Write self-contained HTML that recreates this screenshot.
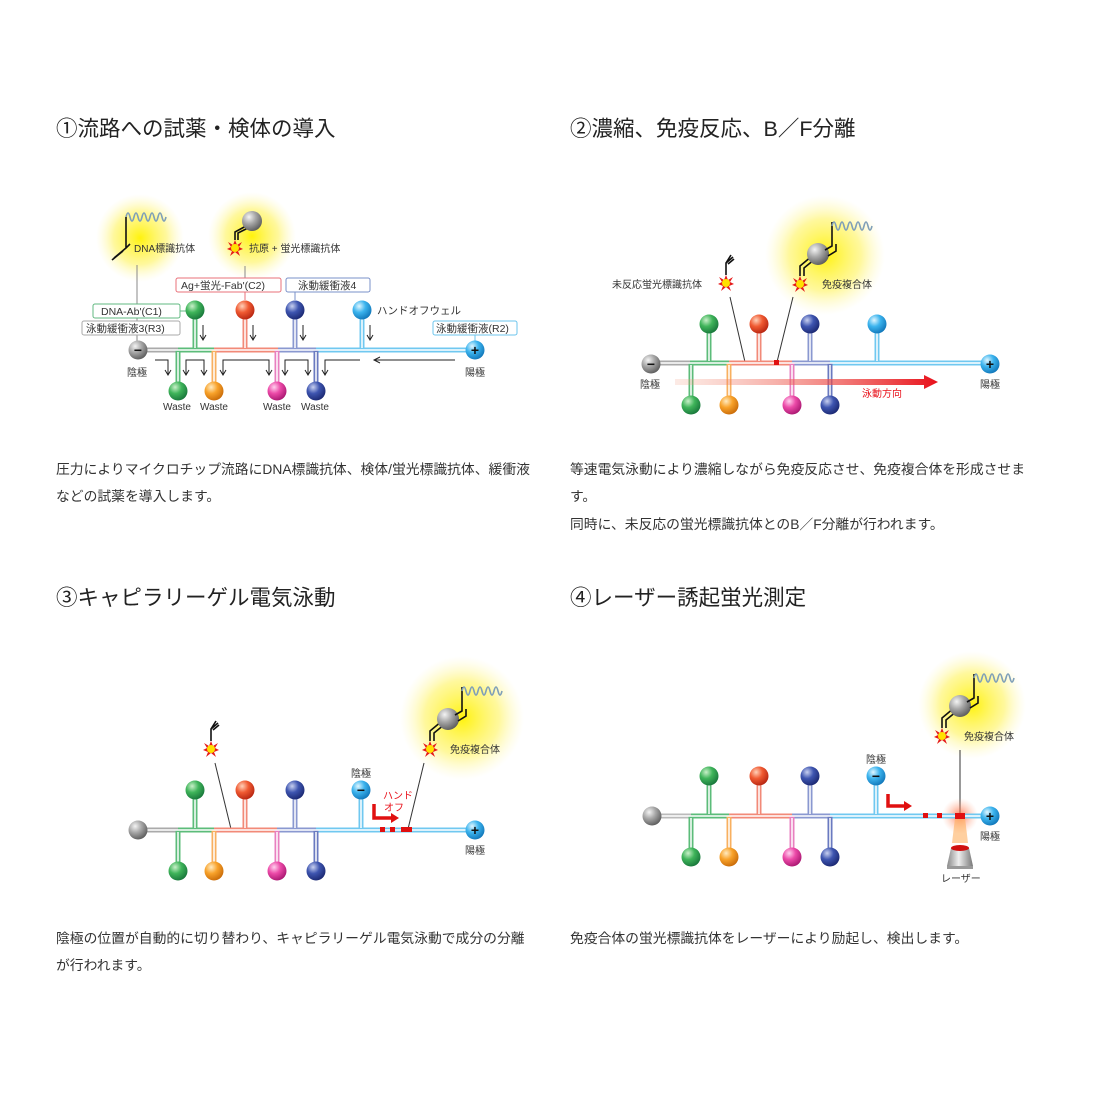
<!DOCTYPE html>
<html><head><meta charset="utf-8">
<style>
html,body{margin:0;padding:0;background:#fff;width:1100px;height:1100px;overflow:hidden}
svg{display:block}
text{font-family:"Liberation Sans","Noto Sans CJK JP",sans-serif}
.h{font-size:21.5px;fill:#222}
.p{font-size:13.8px;fill:#333}
.s{font-size:10px;fill:#333}
.lb{font-size:10.5px;fill:#333}
</style></head><body>
<svg width="1100" height="1100" viewBox="0 0 1100 1100" xmlns="http://www.w3.org/2000/svg">
<defs>
<radialGradient id="gG" cx="0.35" cy="0.3" r="0.75"><stop offset="0" stop-color="#c8f0c8"/><stop offset="0.45" stop-color="#3fb45a"/><stop offset="1" stop-color="#17753a"/></radialGradient>
<radialGradient id="gR" cx="0.35" cy="0.3" r="0.75"><stop offset="0" stop-color="#ffd0b8"/><stop offset="0.45" stop-color="#f05a32"/><stop offset="1" stop-color="#b52410"/></radialGradient>
<radialGradient id="gB" cx="0.35" cy="0.3" r="0.75"><stop offset="0" stop-color="#c8d0f0"/><stop offset="0.45" stop-color="#3e55b0"/><stop offset="1" stop-color="#1a2770"/></radialGradient>
<radialGradient id="gC" cx="0.35" cy="0.3" r="0.75"><stop offset="0" stop-color="#e0f6ff"/><stop offset="0.45" stop-color="#3cb4ee"/><stop offset="1" stop-color="#1075b8"/></radialGradient>
<radialGradient id="gO" cx="0.35" cy="0.3" r="0.75"><stop offset="0" stop-color="#ffeac0"/><stop offset="0.45" stop-color="#f8a22a"/><stop offset="1" stop-color="#c86a08"/></radialGradient>
<radialGradient id="gP" cx="0.35" cy="0.3" r="0.75"><stop offset="0" stop-color="#ffd0ee"/><stop offset="0.45" stop-color="#ec4aa8"/><stop offset="1" stop-color="#a81670"/></radialGradient>
<radialGradient id="gK" cx="0.35" cy="0.3" r="0.75"><stop offset="0" stop-color="#f4f4f4"/><stop offset="0.45" stop-color="#a8a8a8"/><stop offset="1" stop-color="#5a5a5a"/></radialGradient>
<radialGradient id="glow" cx="0.5" cy="0.5" r="0.5"><stop offset="0" stop-color="#fff200" stop-opacity="0.95"/><stop offset="0.6" stop-color="#fff35a" stop-opacity="0.6"/><stop offset="1" stop-color="#fff8b0" stop-opacity="0"/></radialGradient>
<radialGradient id="laserglow" cx="0.5" cy="0.5" r="0.5"><stop offset="0" stop-color="#ff5a2a" stop-opacity="0.8"/><stop offset="1" stop-color="#ffb090" stop-opacity="0"/></radialGradient>
<linearGradient id="arr" x1="0" x2="1" y1="0" y2="0"><stop offset="0" stop-color="#f39a80" stop-opacity="0.2"/><stop offset="1" stop-color="#e8101a"/></linearGradient>
<linearGradient id="lz" x1="0" x2="1"><stop offset="0" stop-color="#888"/><stop offset="0.45" stop-color="#eee"/><stop offset="1" stop-color="#777"/></linearGradient>
<g id="bG"><circle r="9.5" fill="url(#gG)"/></g>
<g id="bR"><circle r="9.5" fill="url(#gR)"/></g>
<g id="bB"><circle r="9.5" fill="url(#gB)"/></g>
<g id="bC"><circle r="9.5" fill="url(#gC)"/></g>
<g id="bO"><circle r="9.5" fill="url(#gO)"/></g>
<g id="bP"><circle r="9.5" fill="url(#gP)"/></g>
<g id="bK"><circle r="9.5" fill="url(#gK)"/></g>
<g id="star"><polygon points="0,-8 2,-3 7,-6 4,-1 8,1 3,3 5,8 0,4 -5,8 -3,3 -8,1 -4,-1 -7,-6 -2,-3" fill="#e51a1a"/><circle r="4" fill="#ffe100"/></g>
<g id="wave"><path d="M0,0 q2,-8 4,0 q2,8 4,0 q2,-8 4,0 q2,8 4,0 q2,-8 4,0 q2,8 4,0 q2,-8 4,0 q2,8 4,0 q2,-8 4,0 q2,8 4,0" fill="none" stroke="#7f9fb8" stroke-width="1.6"/></g>
<g id="cplx">
<use href="#star"/>
<path d="M0,-8 V-18 L12,-28 M4,-8 V-16 L15,-25" fill="none" stroke="#111" stroke-width="1.6"/>
<circle cx="18" cy="-30" r="11" fill="url(#gK)"/>
<path d="M25,-34 L32,-38 V-62 M28,-28 L36,-33 V-40" fill="none" stroke="#111" stroke-width="1.6"/>
<use href="#wave" x="32" y="-58"/>
</g>
<g id="freeab"><use href="#star"/><path d="M0,-8 V-20 L7,-26 M0,-20 L5,-28 M2,-19 L8,-24" fill="none" stroke="#111" stroke-width="1.6"/></g>
</defs>

<text class="h" x="56" y="136">①流路への試薬・検体の導入</text>
<text class="h" x="570" y="136">②濃縮、免疫反応、B／F分離</text>
<text class="h" x="56" y="605">③キャピラリーゲル電気泳動</text>
<text class="h" x="570" y="605">④レーザー誘起蛍光測定</text>

<text class="p" x="56" y="474">圧力によりマイクロチップ流路にDNA標識抗体、検体/蛍光標識抗体、緩衝液</text>
<text class="p" x="56" y="501">などの試薬を導入します。</text>
<text class="p" x="570" y="474">等速電気泳動により濃縮しながら免疫反応させ、免疫複合体を形成させま</text>
<text class="p" x="570" y="501">す。</text>
<text class="p" x="570" y="529">同時に、未反応の蛍光標識抗体とのB／F分離が行われます。</text>
<text class="p" x="56" y="943">陰極の位置が自動的に切り替わり、キャピラリーゲル電気泳動で成分の分離</text>
<text class="p" x="56" y="970">が行われます。</text>
<text class="p" x="570" y="943">免疫合体の蛍光標識抗体をレーザーにより励起し、検出します。</text>

<!-- PANEL 1 -->
<circle cx="140" cy="238" r="44" fill="url(#glow)"/>
<circle cx="252" cy="236" r="44" fill="url(#glow)"/>
<use href="#wave" x="126" y="217"/>
<path d="M126,217 V248 L114,258 M123,251 L112,260 M126,248 L130,244" fill="none" stroke="#111" stroke-width="1.6"/>
<text class="s" x="134" y="252">DNA標識抗体</text>
<use href="#star" x="235" y="248"/>
<path d="M235,240 V232 L246,226 M238,240 V233 L248,228" fill="none" stroke="#111" stroke-width="1.6"/>
<circle cx="252" cy="221" r="10" fill="url(#gK)"/>
<text class="s" x="249" y="252">抗原 + 蛍光標識抗体</text>
<line x1="137" y1="265" x2="137" y2="342" stroke="#888" stroke-width="1"/>
<line x1="245" y1="266" x2="245" y2="278" stroke="#888" stroke-width="1"/>
<rect x="176" y="278" width="105" height="14" rx="2" fill="#fff" stroke="#e8707a"/>
<text class="lb" x="181" y="289">Ag+蛍光-Fab'(C2)</text>
<rect x="286" y="278" width="84" height="14" rx="2" fill="#fff" stroke="#7a90c8"/>
<text class="lb" x="298" y="289">泳動緩衝液4</text>
<rect x="93" y="304" width="87" height="14" rx="2" fill="#fff" stroke="#60b880"/>
<text class="lb" x="101" y="315">DNA-Ab'(C1)</text>
<rect x="82" y="321" width="98" height="14" rx="2" fill="#fff" stroke="#aaa"/>
<text class="lb" x="86" y="332">泳動緩衝液3(R3)</text>
<rect x="433" y="321" width="84" height="14" rx="2" fill="#fff" stroke="#6cc4ec"/>
<text class="lb" x="436" y="332">泳動緩衝液(R2)</text>
<text class="lb" x="377" y="314">ハンドオフウェル</text>
<line x1="180" y1="311" x2="186" y2="311" stroke="#60b880"/>
<line x1="295" y1="292" x2="295" y2="300" stroke="#7a90c8"/>
<line x1="245" y1="292" x2="245" y2="300" stroke="#e8707a"/>
<line x1="475" y1="335" x2="475" y2="342" stroke="#6cc4ec"/>
<g fill="none" stroke-width="5">
<line x1="138" y1="350" x2="178" y2="350" stroke="#aaa"/>
<line x1="178" y1="350" x2="214" y2="350" stroke="#5cbc7a"/>
<line x1="214" y1="350" x2="278" y2="350" stroke="#f28a78"/>
<line x1="278" y1="350" x2="316" y2="350" stroke="#8a98d0"/>
<line x1="316" y1="350" x2="475" y2="350" stroke="#70c8f0"/>
<line x1="195" y1="310" x2="195" y2="350" stroke="#5cbc7a"/>
<line x1="245" y1="310" x2="245" y2="350" stroke="#f28a78"/>
<line x1="295" y1="310" x2="295" y2="350" stroke="#8a98d0"/>
<line x1="362" y1="310" x2="362" y2="350" stroke="#70c8f0"/>
<line x1="178" y1="350" x2="178" y2="390" stroke="#5cbc7a"/>
<line x1="214" y1="350" x2="214" y2="390" stroke="#f8b060"/>
<line x1="277" y1="350" x2="277" y2="390" stroke="#e880c0"/>
<line x1="316" y1="350" x2="316" y2="390" stroke="#6a7ac0"/>
</g>
<g stroke="#fff" stroke-width="1.5">
<line x1="138" y1="350" x2="475" y2="350"/>
<line x1="195" y1="318" x2="195" y2="348"/><line x1="245" y1="318" x2="245" y2="348"/><line x1="295" y1="318" x2="295" y2="348"/><line x1="362" y1="318" x2="362" y2="348"/>
<line x1="178" y1="352" x2="178" y2="382"/><line x1="214" y1="352" x2="214" y2="382"/><line x1="277" y1="352" x2="277" y2="382"/><line x1="316" y1="352" x2="316" y2="382"/>
</g>
<use href="#bG" x="195" y="310"/><use href="#bR" x="245" y="310"/><use href="#bB" x="295" y="310"/><use href="#bC" x="362" y="310"/>
<use href="#bG" x="178" y="391"/><use href="#bO" x="214" y="391"/><use href="#bP" x="277" y="391"/><use href="#bB" x="316" y="391"/>
<use href="#bK" x="138" y="350"/><text x="138" y="355" font-size="14" font-weight="bold" text-anchor="middle" fill="#111">−</text>
<use href="#bC" x="475" y="350"/><text x="475" y="355" font-size="14" font-weight="bold" text-anchor="middle" fill="#111">+</text>
<text class="s" x="127" y="376">陰極</text><text class="s" x="465" y="376">陽極</text>
<text class="s" x="163" y="410">Waste</text><text class="s" x="200" y="410">Waste</text><text class="s" x="263" y="410">Waste</text><text class="s" x="301" y="410">Waste</text>
<g fill="none" stroke="#222" stroke-width="1">
<path d="M203,325 V339 M200,335 L203,340 L206,335"/>
<path d="M253,325 V339 M250,335 L253,340 L256,335"/>
<path d="M303,325 V339 M300,335 L303,340 L306,335"/>
<path d="M370,325 V339 M367,335 L370,340 L373,335"/>
<path d="M155,360 H168 V374 M165,370 L168,375 L171,370"/>
<path d="M186,374 V360 H204 V374 M183,370 L186,375 L189,370 M201,370 L204,375 L207,370"/>
<path d="M223,374 V360 H269 V374 M220,370 L223,375 L226,370 M266,370 L269,375 L272,370"/>
<path d="M285,374 V360 H308 V374 M282,370 L285,375 L288,370 M305,370 L308,375 L311,370"/>
<path d="M325,374 V360 H360 M322,370 L325,375 L328,370"/>
<path d="M455,360 H375 M380,357 L374,360 L380,363"/>
</g>

<!-- PANEL 2 -->
<circle cx="825" cy="255" r="60" fill="url(#glow)"/>
<use href="#cplx" x="800" y="284"/>
<use href="#freeab" x="726" y="283"/>
<text class="s" x="612" y="288">未反応蛍光標識抗体</text>
<text class="s" x="822" y="288">免疫複合体</text>
<line x1="730" y1="297" x2="745" y2="362" stroke="#333"/>
<line x1="793" y1="297" x2="777" y2="362" stroke="#333"/>
<g fill="none" stroke-width="5">
<line x1="651" y1="363" x2="690" y2="363" stroke="#aaa"/>
<line x1="690" y1="363" x2="729" y2="363" stroke="#5cbc7a"/>
<line x1="729" y1="363" x2="792" y2="363" stroke="#f28a78"/>
<line x1="792" y1="363" x2="830" y2="363" stroke="#8a98d0"/>
<line x1="830" y1="363" x2="990" y2="363" stroke="#70c8f0"/>
<line x1="709" y1="324" x2="709" y2="363" stroke="#5cbc7a"/>
<line x1="759" y1="324" x2="759" y2="363" stroke="#f28a78"/>
<line x1="810" y1="324" x2="810" y2="363" stroke="#8a98d0"/>
<line x1="877" y1="324" x2="877" y2="363" stroke="#70c8f0"/>
<line x1="691" y1="363" x2="691" y2="404" stroke="#5cbc7a"/>
<line x1="729" y1="363" x2="729" y2="404" stroke="#f8b060"/>
<line x1="792" y1="363" x2="792" y2="404" stroke="#e880c0"/>
<line x1="830" y1="363" x2="830" y2="404" stroke="#6a7ac0"/>
</g>
<g stroke="#fff" stroke-width="1.5">
<line x1="651" y1="363" x2="990" y2="363"/>
<line x1="709" y1="332" x2="709" y2="361"/><line x1="759" y1="332" x2="759" y2="361"/><line x1="810" y1="332" x2="810" y2="361"/><line x1="877" y1="332" x2="877" y2="361"/>
<line x1="691" y1="365" x2="691" y2="396"/><line x1="729" y1="365" x2="729" y2="396"/><line x1="792" y1="365" x2="792" y2="396"/><line x1="830" y1="365" x2="830" y2="396"/>
</g>
<rect x="774" y="360" width="5" height="5" fill="#e01010"/>
<path d="M675,379 H924 V375 L938,382 L924,389 V385 H675 Z" fill="url(#arr)"/>
<use href="#bG" x="709" y="324"/><use href="#bR" x="759" y="324"/><use href="#bB" x="810" y="324"/><use href="#bC" x="877" y="324"/>
<use href="#bG" x="691" y="405"/><use href="#bO" x="729" y="405"/><use href="#bP" x="792" y="405"/><use href="#bB" x="830" y="405"/>
<use href="#bK" x="651" y="364"/><text x="651" y="369" font-size="14" font-weight="bold" text-anchor="middle" fill="#111">−</text>
<use href="#bC" x="990" y="364"/><text x="990" y="369" font-size="14" font-weight="bold" text-anchor="middle" fill="#111">+</text>
<text class="s" x="640" y="388">陰極</text><text class="s" x="980" y="388">陽極</text>
<text x="862" y="397" font-size="10" fill="#e8101a">泳動方向</text>

<!-- PANEL 3 -->
<circle cx="462" cy="718" r="62" fill="url(#glow)"/>
<use href="#cplx" x="430" y="749"/>
<text class="s" x="450" y="753">免疫複合体</text>
<use href="#freeab" x="211" y="749"/>
<line x1="215" y1="763" x2="231" y2="829" stroke="#333"/>
<line x1="424" y1="763" x2="408" y2="829" stroke="#333"/>
<g fill="none" stroke-width="5">
<line x1="138" y1="830" x2="178" y2="830" stroke="#aaa"/>
<line x1="178" y1="830" x2="214" y2="830" stroke="#5cbc7a"/>
<line x1="214" y1="830" x2="277" y2="830" stroke="#f28a78"/>
<line x1="277" y1="830" x2="316" y2="830" stroke="#8a98d0"/>
<line x1="316" y1="830" x2="475" y2="830" stroke="#70c8f0"/>
<line x1="195" y1="790" x2="195" y2="830" stroke="#5cbc7a"/>
<line x1="245" y1="790" x2="245" y2="830" stroke="#f28a78"/>
<line x1="295" y1="790" x2="295" y2="830" stroke="#8a98d0"/>
<line x1="361" y1="790" x2="361" y2="830" stroke="#70c8f0"/>
<line x1="178" y1="830" x2="178" y2="870" stroke="#5cbc7a"/>
<line x1="214" y1="830" x2="214" y2="870" stroke="#f8b060"/>
<line x1="277" y1="830" x2="277" y2="870" stroke="#e880c0"/>
<line x1="316" y1="830" x2="316" y2="870" stroke="#6a7ac0"/>
</g>
<g stroke="#fff" stroke-width="1.5">
<line x1="138" y1="830" x2="475" y2="830"/>
<line x1="195" y1="798" x2="195" y2="828"/><line x1="245" y1="798" x2="245" y2="828"/><line x1="295" y1="798" x2="295" y2="828"/><line x1="361" y1="798" x2="361" y2="828"/>
<line x1="178" y1="832" x2="178" y2="862"/><line x1="214" y1="832" x2="214" y2="862"/><line x1="277" y1="832" x2="277" y2="862"/><line x1="316" y1="832" x2="316" y2="862"/>
</g>
<g fill="#e01010"><rect x="380" y="827" width="5" height="5"/><rect x="390" y="827" width="5" height="5"/><rect x="401" y="827" width="11" height="5"/></g>
<path d="M374,804 V818 H393" fill="none" stroke="#e01010" stroke-width="3.5"/><path d="M391,813 L399,818 L391,823 Z" fill="#e01010"/>
<text x="383" y="799" font-size="10" fill="#e8101a">ハンド</text><text x="384" y="811" font-size="10" fill="#e8101a">オフ</text>
<use href="#bG" x="195" y="790"/><use href="#bR" x="245" y="790"/><use href="#bB" x="295" y="790"/>
<use href="#bC" x="361" y="790"/><text x="361" y="795" font-size="14" font-weight="bold" text-anchor="middle" fill="#111">−</text>
<text class="s" x="351" y="777">陰極</text>
<use href="#bG" x="178" y="871"/><use href="#bO" x="214" y="871"/><use href="#bP" x="277" y="871"/><use href="#bB" x="316" y="871"/>
<use href="#bK" x="138" y="830"/>
<use href="#bC" x="475" y="830"/><text x="475" y="835" font-size="14" font-weight="bold" text-anchor="middle" fill="#111">+</text>
<text class="s" x="465" y="854">陽極</text>

<!-- PANEL 4 -->
<circle cx="972" cy="705" r="54" fill="url(#glow)"/>
<use href="#cplx" x="942" y="736"/>
<text class="s" x="964" y="740">免疫複合体</text>
<line x1="960" y1="750" x2="960" y2="815" stroke="#333"/>
<circle cx="960" cy="816" r="18" fill="url(#laserglow)"/>
<polygon points="955,818 965,818 968,843 952,843" fill="#ffb060" opacity="0.6"/>
<g fill="none" stroke-width="5">
<line x1="652" y1="816" x2="691" y2="816" stroke="#bbb"/>
<line x1="691" y1="816" x2="729" y2="816" stroke="#5cbc7a"/>
<line x1="729" y1="816" x2="792" y2="816" stroke="#f28a78"/>
<line x1="792" y1="816" x2="830" y2="816" stroke="#8a98d0"/>
<line x1="830" y1="816" x2="990" y2="816" stroke="#70c8f0"/>
<line x1="709" y1="776" x2="709" y2="816" stroke="#5cbc7a"/>
<line x1="759" y1="776" x2="759" y2="816" stroke="#f28a78"/>
<line x1="810" y1="776" x2="810" y2="816" stroke="#8a98d0"/>
<line x1="876" y1="776" x2="876" y2="816" stroke="#70c8f0"/>
<line x1="691" y1="816" x2="691" y2="857" stroke="#5cbc7a"/>
<line x1="729" y1="816" x2="729" y2="857" stroke="#f8b060"/>
<line x1="792" y1="816" x2="792" y2="857" stroke="#e880c0"/>
<line x1="830" y1="816" x2="830" y2="857" stroke="#6a7ac0"/>
</g>
<g stroke="#fff" stroke-width="1.5">
<line x1="652" y1="816" x2="990" y2="816"/>
<line x1="709" y1="784" x2="709" y2="814"/><line x1="759" y1="784" x2="759" y2="814"/><line x1="810" y1="784" x2="810" y2="814"/><line x1="876" y1="784" x2="876" y2="814"/>
<line x1="691" y1="818" x2="691" y2="849"/><line x1="729" y1="818" x2="729" y2="849"/><line x1="792" y1="818" x2="792" y2="849"/><line x1="830" y1="818" x2="830" y2="849"/>
</g>
<g fill="#e01010"><rect x="923" y="813" width="5" height="5"/><rect x="937" y="813" width="5" height="5"/><rect x="955" y="813" width="10" height="6"/></g>
<path d="M888,794 V806 H906" fill="none" stroke="#e01010" stroke-width="3.5"/><path d="M904,801 L912,806 L904,811 Z" fill="#e01010"/>
<use href="#bG" x="709" y="776"/><use href="#bR" x="759" y="776"/><use href="#bB" x="810" y="776"/>
<use href="#bC" x="876" y="776"/><text x="876" y="781" font-size="14" font-weight="bold" text-anchor="middle" fill="#111">−</text>
<text class="s" x="866" y="763">陰極</text>
<use href="#bG" x="691" y="857"/><use href="#bO" x="729" y="857"/><use href="#bP" x="792" y="857"/><use href="#bB" x="830" y="857"/>
<use href="#bK" x="652" y="816"/>
<use href="#bC" x="990" y="816"/><text x="990" y="821" font-size="14" font-weight="bold" text-anchor="middle" fill="#111">+</text>
<text class="s" x="980" y="840">陽極</text>
<path d="M951,848 H969 L973,866 H947 Z" fill="url(#lz)"/>
<ellipse cx="960" cy="848" rx="9" ry="3" fill="#d01010"/>
<rect x="947" y="866" width="26" height="3" fill="#999"/>
<text class="s" x="941" y="882">レーザー</text>
</svg>
</body></html>
